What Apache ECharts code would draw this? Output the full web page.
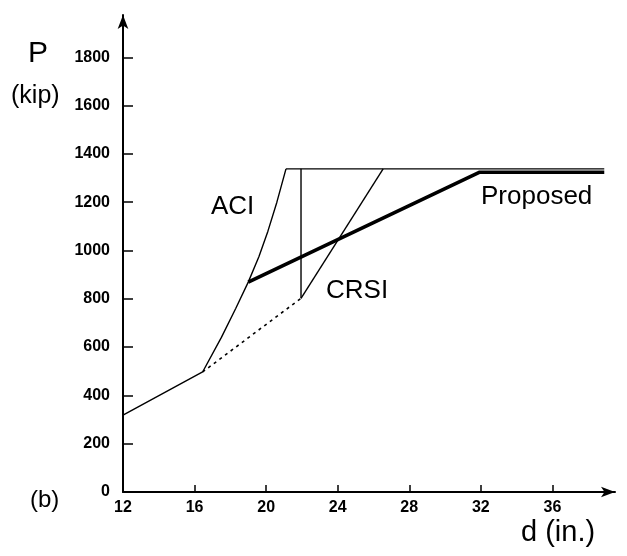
<!DOCTYPE html>
<html>
<head>
<meta charset="utf-8">
<script src="https://cdn.jsdelivr.net/npm/echarts@6/dist/echarts.min.js"></script>
<style>
  html, body { margin: 0; padding: 0; background: #fff; }
  #chart { width: 627px; height: 556px; }
</style>
</head>
<body>
<div id="chart"></div>
<script>
// tick values
const xTicks = [12, 16, 20, 24, 28, 32, 36]
const yTicks = [0, 200, 400, 600, 800, 1000, 1200, 1400, 1600, 1800]

// ACI curve (incl. the common lower part from d = 12)
const aciD = [12, 16.45, 17.5, 18.3, 19.0, 19.6, 20.1, 20.6, 21.11]
const aciP = [318, 497, 640, 760, 869, 975, 1080, 1200, 1338]

// dotted continuation of the lower line
const dotD = [16.45, 21.95]
const dotP = [497, 802]

// vertical drop at d = 22
const dropD = [21.95, 21.95]
const dropP = [802, 1338]

// CRSI
const crsiD = [21.95, 26.54]
const crsiP = [802, 1338]

// upper limit (thin)
const capD = [21.11, 38.9]
const capP = [1338, 1338]

// Proposed (thick)
const propD = [19.0, 31.94, 38.9]
const propP = [869, 1324, 1324]

const pairs = (xs, ys) => xs.map((x, i) => [x, ys[i]])

const font = 'Liberation Sans, Arial, Helvetica, sans-serif'

const thin = (name, xs, ys, extra) => ({
  name: name,
  type: 'line',
  symbol: 'none',
  silent: true,
  data: pairs(xs, ys),
  lineStyle: Object.assign({ color: '#000', width: 1.4 }, extra || {}),
})

let myChart = echarts.init(document.getElementById('chart'))
myChart.setOption({
  animation: false,
  backgroundColor: '#fff',
  grid: { left: 123, right: 12, top: 15, bottom: 64 },
  xAxis: {
    type: 'value',
    min: 12,
    max: 39.5,
    interval: 4,
    splitLine: { show: false },
    axisLine: {
      lineStyle: { color: '#000', width: 2 },
      symbol: ['none', 'arrow'],
      symbolSize: [8, 14],
    },
    axisTick: { inside: true, length: 7, lineStyle: { color: '#000', width: 1.5 }, customValues: xTicks },
    axisLabel: {
      margin: 8, color: '#000', fontSize: 16, fontWeight: 'bold', fontFamily: font,
      customValues: xTicks, formatter: (v) => String(v),
    },
  },
  yAxis: {
    type: 'value',
    min: 0,
    max: 1975,
    interval: 200,
    splitLine: { show: false },
    axisLine: {
      lineStyle: { color: '#000', width: 2 },
      symbol: ['none', 'arrow'],
      symbolSize: [8, 14],
    },
    axisTick: { inside: true, length: 10, lineStyle: { color: '#000', width: 1.5 }, customValues: yTicks },
    axisLabel: {
      margin: 13, color: '#000', fontSize: 16, fontWeight: 'bold', fontFamily: font,
      customValues: yTicks, formatter: (v) => String(v),
    },
  },
  series: [
    thin('ACI', aciD, aciP),
    thin('lower', dotD, dotP, { type: [3, 4], width: 1.6 }),
    thin('drop', dropD, dropP),
    thin('CRSI', crsiD, crsiP),
    thin('cap', capD, capP),
    thin('Proposed', propD, propP, { width: 3.6 }),
  ],
  graphic: [
    { type: 'text', left: 28, top: 39, style: { text: 'P', font: '30px ' + font, fill: '#000' } },
    { type: 'text', left: 11, top: 84, style: { text: '(kip)', font: '25px ' + font, fill: '#000' } },
    { type: 'text', left: 211, top: 194, style: { text: 'ACI', font: '26px ' + font, fill: '#000' } },
    { type: 'text', left: 326, top: 278, style: { text: 'CRSI', font: '26px ' + font, fill: '#000' } },
    { type: 'text', left: 481, top: 184, style: { text: 'Proposed', font: '26px ' + font, fill: '#000' } },
    { type: 'text', left: 30, top: 488, style: { text: '(b)', font: '24px ' + font, fill: '#000' } },
    { type: 'text', left: 521, top: 518, style: { text: 'd (in.)', font: '29px ' + font, fill: '#000' } },
  ],
})
</script>
</body>
</html>
